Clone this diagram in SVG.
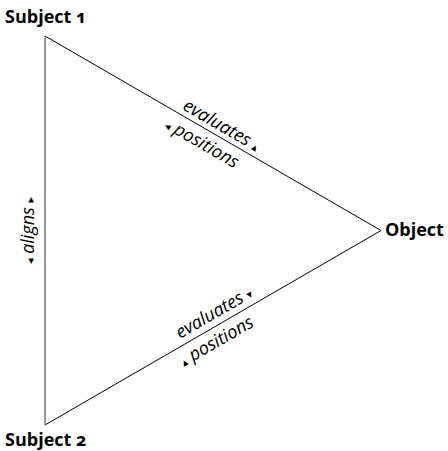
<svg xmlns="http://www.w3.org/2000/svg" width="448" height="451" viewBox="0 0 448 451">
<style>
.lbl{font-family:"Open Sans","Noto Sans",sans-serif;font-weight:bold;font-size:18px;fill:#000;font-variant-numeric:oldstyle-nums}
.rel{font-family:"Open Sans","Noto Sans",sans-serif;font-style:italic;font-size:18px;fill:#000;text-anchor:middle}
.tri{font-family:"DejaVu Sans",sans-serif;font-style:normal;font-size:11px}
.edge{stroke:#000;stroke-width:1;fill:none}
.side{stroke:#808080;stroke-width:1.6;fill:none}
</style>
<rect width="448" height="451" fill="#fff"/>
<g id="connectors">
<line class="edge" x1="45" y1="36" x2="381" y2="230.5"/>
<line class="edge" x1="45" y1="425" x2="381" y2="230.5"/>
<line class="side" x1="45" y1="36" x2="45" y2="425"/>
</g>
<g id="subject1"><text class="lbl" x="5" y="23">Subject 1</text></g>
<g id="subject2"><text class="lbl" x="5" y="446">Subject 2</text></g>
<g id="object"><text class="lbl" x="385" y="236">Object</text></g>
<g id="label-top" transform="translate(213.5,133.25) rotate(30)">
<text class="rel" x="3" y="-5">evaluates <tspan class="tri">▴</tspan></text>
<text class="rel" x="-5" y="20"><tspan class="tri">◂</tspan> positions</text>
</g>
<g id="label-bottom" transform="translate(213.5,327.75) rotate(-30)">
<text class="rel" x="8" y="-7">evaluates <tspan class="tri">▾</tspan></text>
<text class="rel" x="-4" y="19"><tspan class="tri">▴</tspan> positions</text>
</g>
<g id="label-left" transform="translate(34,230.5) rotate(-90)">
<text class="rel" x="0" y="0"><tspan class="tri">◂</tspan> aligns <tspan class="tri">▸</tspan></text>
</g>
</svg>
